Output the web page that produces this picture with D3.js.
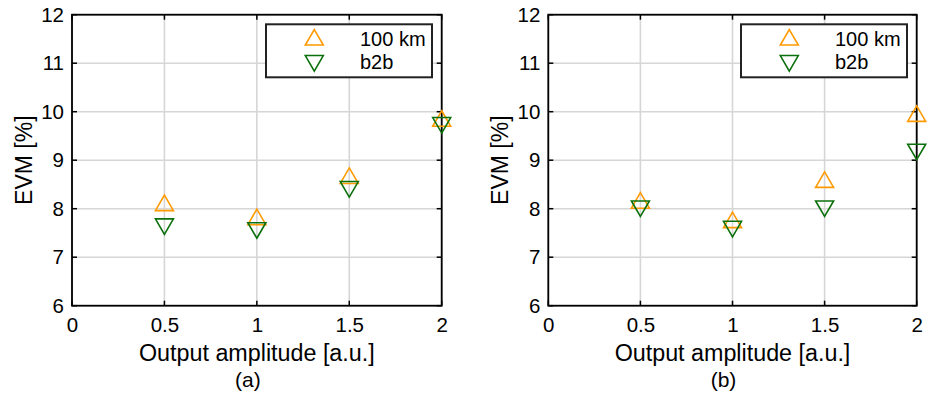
<!DOCTYPE html>
<html>
<head>
<meta charset="utf-8">
<script src="https://cdn.jsdelivr.net/npm/d3@7/dist/d3.min.js"></script>
<style>
  html, body { margin: 0; padding: 0; background: #fff; }
  svg { display: block; }
  text { font-family: "Liberation Sans", Arial, Helvetica, sans-serif; fill: #000; }
</style>
</head>
<body>
<svg id="chart" width="929" height="400"></svg>
<script>
// Output amplitude levels (x positions of the measurements)
const amplitudes = [0.5, 1, 1.5, 2];

// EVM [%] for panel (a)
const evmA_100km = [8.12, 7.83, 8.68, 9.86];
const evmA_b2b   = [7.63, 7.55, 8.40, 9.72];

// EVM [%] for panel (b)
const evmB_100km = [8.17, 7.77, 8.60, 9.96];
const evmB_b2b   = [8.00, 7.58, 8.00, 9.17];

// Axis ticks
const xTicks = [0, 0.5, 1, 1.5, 2];
const yTicks = [6, 7, 8, 9, 10, 11, 12];

const seriesNames = ["100 km", "b2b"];
const subLabels = ["(a)", "(b)"];

const colors = { km100: "#ff9a00", b2b: "#0b700b" };

const panels = [
  { left: 72,    right: 441.7, top: 14.7, bottom: 305.7, sub: subLabels[0], a: evmA_100km, b: evmA_b2b },
  { left: 548.3, right: 916.7, top: 14.7, bottom: 305.7, sub: subLabels[1], a: evmB_100km, b: evmB_b2b }
];

const svg = d3.select("#chart");

const TW = 18, TH = 15.5;   // triangle marker size
const upTri   = `M0,${-TH/2} L${TW/2},${TH/2} L${-TW/2},${TH/2} Z`;
const downTri = `M0,${TH/2} L${TW/2},${-TH/2} L${-TW/2},${-TH/2} Z`;

panels.forEach(p => {
  const x = d3.scaleLinear().domain([0, 2]).range([p.left, p.right]);
  const y = d3.scaleLinear().domain([6, 12]).range([p.bottom, p.top]);
  const g = svg.append("g");

  // grid
  g.append("g").selectAll("line").data(xTicks).join("line")
    .attr("x1", d => x(d)).attr("x2", d => x(d))
    .attr("y1", p.top).attr("y2", p.bottom)
    .attr("stroke", "#d6d6d6").attr("stroke-width", 1.6);
  g.append("g").selectAll("line").data(yTicks).join("line")
    .attr("x1", p.left).attr("x2", p.right)
    .attr("y1", d => y(d)).attr("y2", d => y(d))
    .attr("stroke", "#d6d6d6").attr("stroke-width", 1.6);

  // axes with labels
  const xAxis = d3.axisBottom(x).tickValues(xTicks).tickFormat(d3.format("")).tickSize(0).tickPadding(12);
  const yAxis = d3.axisLeft(y).tickValues(yTicks).tickFormat(d3.format("")).tickSize(0).tickPadding(8);
  const gx = g.append("g").attr("transform", `translate(0,${p.bottom})`).call(xAxis);
  const gy = g.append("g").attr("transform", `translate(${p.left},0)`).call(yAxis);
  [gx, gy].forEach(a => {
    a.select(".domain").remove();
    a.selectAll("text").attr("font-size", 20.5).attr("font-family", "Liberation Sans, Arial, sans-serif").attr("fill", "#000");
  });

  // inward tick marks on all four sides
  const tl = 5;
  const ticks = g.append("g").attr("stroke", "#000").attr("stroke-width", 1.5);
  xTicks.forEach(t => {
    ticks.append("line").attr("x1", x(t)).attr("x2", x(t)).attr("y1", p.bottom).attr("y2", p.bottom - tl);
    ticks.append("line").attr("x1", x(t)).attr("x2", x(t)).attr("y1", p.top).attr("y2", p.top + tl);
  });
  yTicks.forEach(t => {
    ticks.append("line").attr("x1", p.left).attr("x2", p.left + tl).attr("y1", y(t)).attr("y2", y(t));
    ticks.append("line").attr("x1", p.right).attr("x2", p.right - tl).attr("y1", y(t)).attr("y2", y(t));
  });

  // box
  g.append("rect")
    .attr("x", p.left).attr("y", p.top)
    .attr("width", p.right - p.left).attr("height", p.bottom - p.top)
    .attr("fill", "none").attr("stroke", "#000").attr("stroke-width", 1.8);

  // markers
  g.append("g").selectAll("path").data(amplitudes).join("path")
    .attr("d", upTri)
    .attr("transform", (d, i) => `translate(${x(d)},${y(p.a[i])})`)
    .attr("fill", "none").attr("stroke", colors.km100).attr("stroke-width", 1.6);
  g.append("g").selectAll("path").data(amplitudes).join("path")
    .attr("d", downTri)
    .attr("transform", (d, i) => `translate(${x(d)},${y(p.b[i])})`)
    .attr("fill", "none").attr("stroke", colors.b2b).attr("stroke-width", 1.6);

  // legend
  const lw = 166, lh = 53;
  const lx = p.right - 9.7 - lw, ly = p.top + 9.6;
  const lg = g.append("g").attr("transform", `translate(${lx},${ly})`);
  lg.append("rect").attr("width", lw).attr("height", lh)
    .attr("fill", "#fff").attr("stroke", "#222").attr("stroke-width", 2);
  lg.append("path").attr("d", upTri).attr("transform", "translate(48.3,13)")
    .attr("fill", "none").attr("stroke", colors.km100).attr("stroke-width", 1.6);
  lg.append("path").attr("d", downTri).attr("transform", "translate(48.3,39)")
    .attr("fill", "none").attr("stroke", colors.b2b).attr("stroke-width", 1.6);
  lg.append("text").attr("x", 94).attr("y", 21.7).attr("font-size", 20).text(seriesNames[0]);
  lg.append("text").attr("x", 94).attr("y", 45).attr("font-size", 20).text(seriesNames[1]);

  // axis titles
  const cx = (p.left + p.right) / 2;
  g.append("text").attr("x", cx).attr("y", 360.5).attr("text-anchor", "middle")
    .attr("font-size", 23.3).text("Output amplitude [a.u.]");
  g.append("text").attr("x", cx - 9).attr("y", 387.3).attr("text-anchor", "middle")
    .attr("font-size", 21).text(p.sub);
  g.append("text")
    .attr("transform", `translate(${p.left - 40.5},${(p.top + p.bottom) / 2}) rotate(-90)`)
    .attr("text-anchor", "middle").attr("font-size", 23).text("EVM [%]");
});
</script>
</body>
</html>
